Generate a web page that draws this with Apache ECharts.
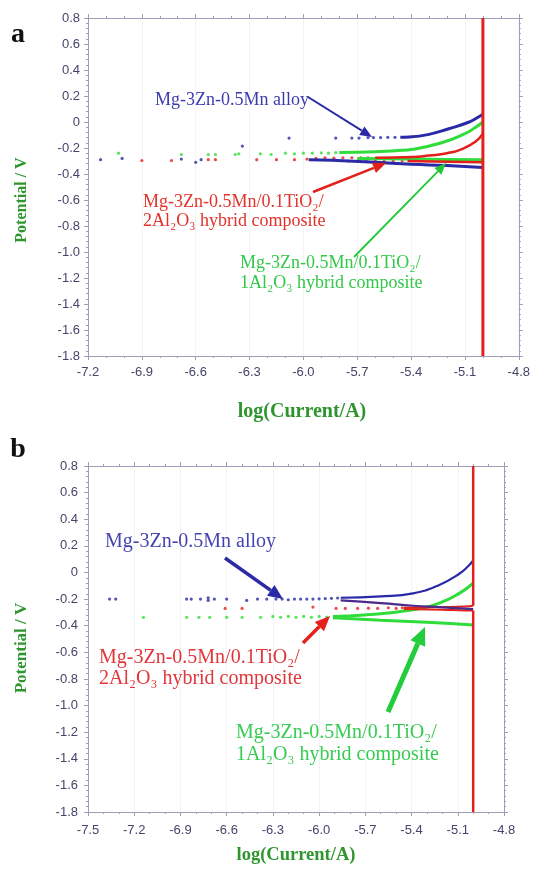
<!DOCTYPE html>
<html>
<head>
<meta charset="utf-8">
<script src="https://cdn.jsdelivr.net/npm/echarts@6/dist/echarts.min.js"></script>
<style>
    html, body { margin: 0; padding: 0; background: #fff; }
    #tafelChart { width: 533px; height: 878px; }
</style>
</head>
<body>
<div id="tafelChart"></div>
<script>
// ---- panel a : [log(I/A), E (V)] ----
const aBlueDots = [[-7.13,-0.29],[-7.01,-0.28],[-6.68,-0.285],[-6.6,-0.31],[-6.57,-0.29],[-6.34,-0.185],
    [-6.08,-0.124],[-5.82,-0.124],[-5.73,-0.124],[-5.69,-0.124],[-5.64,-0.12],[-5.61,-0.12],[-5.57,-0.12],[-5.53,-0.118],[-5.49,-0.118]];
const aBlueAnodic = [[-5.46,-0.117],[-5.41,-0.115],[-5.3,-0.095],[-5.19,-0.052],[-5.08,-0.002],[-5.03,0.035],[-5.0,0.06]];
const aBlueCathodic = [[-5.97,-0.29],[-5.84,-0.295],[-5.6,-0.31],[-5.4,-0.325],[-5.2,-0.335],[-5.0,-0.35]];

const aGreenDots = [[-7.03,-0.24],[-6.68,-0.25],[-6.53,-0.25],[-6.49,-0.25],[-6.38,-0.25],[-6.36,-0.245],[-6.24,-0.245],
    [-6.18,-0.25],[-6.1,-0.24],[-6.05,-0.245],[-6.0,-0.24],[-5.95,-0.24],[-5.9,-0.237],[-5.86,-0.24],[-5.82,-0.236]];
const aGreenAnodic = [[-5.8,-0.235],[-5.6,-0.228],[-5.48,-0.22],[-5.39,-0.21],[-5.23,-0.16],[-5.1,-0.09],[-5.04,-0.04],[-5.0,0.0]];
const aGreenCathodic = [[-5.7,-0.28],[-5.4,-0.285],[-5.2,-0.288],[-5.0,-0.29]];

const aRedDots = [[-6.9,-0.296],[-6.735,-0.296],[-6.53,-0.29],[-6.49,-0.29],[-6.26,-0.29],[-6.15,-0.29],[-6.05,-0.29],
    [-5.98,-0.285],[-5.93,-0.28],[-5.88,-0.275],[-5.83,-0.278],[-5.78,-0.275],[-5.73,-0.275],[-5.68,-0.275],[-5.64,-0.275],
    [-5.75,-0.3],[-5.7,-0.3],[-5.65,-0.302],[-5.6,-0.3],[-5.55,-0.302],[-5.5,-0.3],[-5.45,-0.3]];
const aRedAnodic = [[-5.6,-0.275],[-5.39,-0.27],[-5.3,-0.258],[-5.2,-0.24],[-5.12,-0.21],[-5.04,-0.15],[-5.0,-0.09]];
const aRedCathodic = [[-5.42,-0.3],[-5.2,-0.305],[-5.0,-0.31]];
const aRedLimit = [[-5.0,0.8],[-5.0,-1.8]];

// ---- panel b ----
const bBlueDots = [[-7.36,-0.2],[-7.32,-0.2],[-6.86,-0.2],[-6.83,-0.2],[-6.77,-0.2],[-6.72,-0.19],[-6.72,-0.21],[-6.68,-0.2],
    [-6.6,-0.2],[-6.47,-0.21],[-6.4,-0.2],[-6.34,-0.2],[-6.28,-0.2],[-6.24,-0.2],[-6.2,-0.205],[-6.16,-0.2],[-6.12,-0.2],
    [-6.08,-0.2],[-6.04,-0.2],[-6.0,-0.198],[-5.96,-0.196],[-5.92,-0.194],[-5.88,-0.192]];
const bBlueAnodic = [[-5.86,-0.19],[-5.6,-0.18],[-5.39,-0.157],[-5.22,-0.094],[-5.09,-0.01],[-5.03,0.05],[-5.0,0.09]];
const bBlueCathodic = [[-5.86,-0.21],[-5.6,-0.23],[-5.39,-0.25],[-5.2,-0.262],[-5.0,-0.275]];

const bRedDots = [[-6.61,-0.27],[-6.5,-0.27],[-6.04,-0.26],[-5.89,-0.27],[-5.83,-0.27],[-5.75,-0.27],[-5.68,-0.268],
    [-5.62,-0.27],[-5.55,-0.265],[-5.5,-0.27],[-5.46,-0.265]];
const bRedAnodic = [[-5.45,-0.265],[-5.2,-0.26],[-5.05,-0.255],[-5.0,-0.25]];
const bRedCathodic = [[-5.45,-0.275],[-5.2,-0.28],[-5.05,-0.285],[-5.0,-0.285]];
const bRedLimitTop = [[-5.0,0.8],[-5.0,-0.25]];
const bRedLimitBottom = [[-5.0,-0.285],[-5.0,-1.8]];

const bGreenDots = [[-7.14,-0.337],[-6.86,-0.337],[-6.78,-0.337],[-6.71,-0.337],[-6.6,-0.337],[-6.5,-0.337],[-6.38,-0.337],
    [-6.3,-0.33],[-6.25,-0.337],[-6.2,-0.33],[-6.15,-0.337],[-6.1,-0.33],[-6.05,-0.337],[-6.0,-0.33],[-5.95,-0.335]];
const bGreenAnodic = [[-5.91,-0.33],[-5.71,-0.32],[-5.39,-0.28],[-5.22,-0.23],[-5.09,-0.157],[-5.0,-0.08]];
const bGreenCathodic = [[-5.91,-0.34],[-5.6,-0.36],[-5.3,-0.375],[-5.0,-0.395]];

// axis ranges
const aXRange = [-7.2, -4.8];
const bXRange = [-7.5, -4.8];
const yRange = [-1.8, 0.8];

const BLUE = '#2a2aa6', RED = '#e3211c', GREEN = '#2fdc3a';
const SERIF = '"Liberation Serif", "Times New Roman", serif';
const SANS = '"Liberation Sans", Arial, sans-serif';

let chart = echarts.init(document.getElementById('tafelChart'));

function xAxisDef(grid, range, pos, showLabel, margin) {
    return {
        type: 'value', gridIndex: grid, position: pos, min: range[0], max: range[1], interval: 0.3,
        axisLine: { onZero: false, lineStyle: { color: '#9d9db8', width: 1 } },
        axisTick: { length: 4, lineStyle: { color: '#9d9db8' } },
        minorTick: { show: true, splitNumber: 3, length: 2, lineStyle: { color: '#9d9db8' } },
        splitLine: { show: pos === 'bottom', lineStyle: { color: '#f3f3f7' } },
        axisLabel: { show: showLabel, margin: margin, color: '#45456a', fontFamily: SANS, fontSize: 13,
            formatter: v => v.toFixed(1) }
    };
}

function yAxisDef(grid, pos, showLabel, margin) {
    return {
        type: 'value', gridIndex: grid, position: pos, min: yRange[0], max: yRange[1], interval: 0.2,
        axisLine: { onZero: false, lineStyle: { color: '#9d9db8', width: 1 } },
        axisTick: { length: 4, lineStyle: { color: '#9d9db8' } },
        minorTick: { show: true, splitNumber: 5, length: 2, lineStyle: { color: '#9d9db8' } },
        splitLine: { show: false },
        axisLabel: { show: showLabel, margin: margin, color: '#45456a', fontFamily: SANS, fontSize: 13,
            formatter: v => Math.abs(v) < 1e-9 ? '0' : v.toFixed(1) }
    };
}

function dots(data, color, ax) {
    return { type: 'scatter', data: data, xAxisIndex: ax, yAxisIndex: ax, symbolSize: 3.2,
        itemStyle: { color: color }, silent: true, z: 3 };
}
function curve(data, color, ax, w) {
    return { type: 'line', data: data, xAxisIndex: ax, yAxisIndex: ax, smooth: true, showSymbol: false,
        lineStyle: { color: color, width: w }, silent: true, z: 4 };
}

// annotation arrows in pixel space
function arrow(x1, y1, x2, y2, color, w) {
    const ang = Math.atan2(y2 - y1, x2 - x1);
    const hl = 8 + w * 2, hw = 3 + w;
    const bx = x2 - hl * Math.cos(ang), by = y2 - hl * Math.sin(ang);
    const px = -Math.sin(ang) * hw, py = Math.cos(ang) * hw;
    return { type: 'group', silent: true, z: 100, children: [
        { type: 'line', z: 100, shape: { x1: x1, y1: y1, x2: bx, y2: by }, style: { stroke: color, lineWidth: w } },
        { type: 'polygon', z: 100, shape: { points: [[x2, y2], [bx + px, by + py], [bx - px, by - py]] }, style: { fill: color } }
    ]};
}
function label(text, x, y, color, size) {
    return { type: 'text', x: x, y: y, silent: true, z: 100,
        style: { text: text, fill: color, font: size + 'px ' + SERIF, verticalAlign: 'middle' } };
}
function boldLabel(text, x, y, color, size, align, rotation) {
    return { type: 'text', x: x, y: y, rotation: rotation || 0, silent: true, z: 100,
        style: { text: text, fill: color, font: 'bold ' + size + 'px ' + SERIF, align: align, verticalAlign: 'middle' } };
}

const AXNAME = '#2f962f';

let option = {
    backgroundColor: '#fff',
    animation: false,
    grid: [
        { left: 88, right: 14, top: 18, height: 338 },
        { left: 88, right: 29, top: 466, height: 346 }
    ],
    xAxis: [
        xAxisDef(0, aXRange, 'bottom', true, 10),
        xAxisDef(0, aXRange, 'top', false, 0),
        xAxisDef(1, bXRange, 'bottom', true, 12),
        xAxisDef(1, bXRange, 'top', false, 0)
    ],
    yAxis: [
        yAxisDef(0, 'left', true, 8),
        yAxisDef(0, 'right', false, 0),
        yAxisDef(1, 'left', true, 10),
        yAxisDef(1, 'right', false, 0)
    ],
    series: [
        // panel a
        dots(aGreenDots, GREEN, 0),
        curve(aGreenAnodic, GREEN, 0, 3),
        curve(aGreenCathodic, GREEN, 0, 3),
        dots(aBlueDots, BLUE, 0),
        curve(aBlueAnodic, BLUE, 0, 3),
        curve(aBlueCathodic, BLUE, 0, 3),
        dots(aRedDots, RED, 0),
        curve(aRedAnodic, RED, 0, 2.5),
        curve(aRedCathodic, RED, 0, 2.5),
        curve(aRedLimit, RED, 0, 3),
        // panel b
        dots(bGreenDots, GREEN, 2),
        curve(bGreenAnodic, GREEN, 2, 3),
        curve(bGreenCathodic, GREEN, 2, 3),
        dots(bRedDots, RED, 2),
        curve(bRedAnodic, RED, 2, 2),
        curve(bRedCathodic, RED, 2, 2),
        dots(bBlueDots, BLUE, 2),
        curve(bBlueAnodic, BLUE, 2, 2.2),
        curve(bBlueCathodic, '#4a2a8a', 2, 2.2),
        curve(bRedLimitTop, RED, 2, 2.5),
        curve(bRedLimitBottom, RED, 2, 2.5)
    ],
    graphic: [
        // panel letters and axis names
        boldLabel('a', 18, 35, '#111', 28, 'center'),
        boldLabel('b', 18, 450, '#111', 28, 'center'),
        boldLabel('Potential / V', 22, 200, AXNAME, 16, 'center', Math.PI / 2),
        boldLabel('Potential / V', 22, 648, AXNAME, 17, 'center', Math.PI / 2),
        boldLabel('log(Current/A)', 302, 412, AXNAME, 20, 'center'),
        boldLabel('log(Current/A)', 296, 855, AXNAME, 18.5, 'center'),

        // panel a annotations
        label('Mg-3Zn-0.5Mn alloy', 155, 100, '#3b3bb0', 18),
        arrow(308, 97, 372, 137, BLUE, 2),
        label('Mg-3Zn-0.5Mn/0.1TiO₂/', 143, 202, '#e2322a', 18),
        label('2Al₂O₃ hybrid composite', 143, 221, '#e2322a', 18),
        arrow(313, 192, 386, 163, RED, 2.5),
        label('Mg-3Zn-0.5Mn/0.1TiO₂/', 240, 263, '#33c84a', 18),
        label('1Al₂O₃ hybrid composite', 240, 283, '#33c84a', 18),
        arrow(354, 257, 446, 163, '#22c83a', 1.8),

        // panel b annotations
        label('Mg-3Zn-0.5Mn alloy', 105, 542, '#4545b0', 20),
        arrow(225, 558, 283, 599, BLUE, 3.5),
        label('Mg-3Zn-0.5Mn/0.1TiO₂/', 99, 658, '#e0363a', 20),
        label('2Al₂O₃ hybrid composite', 99, 679, '#e0363a', 20),
        arrow(303, 643, 330, 616, RED, 3.5),
        label('Mg-3Zn-0.5Mn/0.1TiO₂/', 236, 733, '#36cc52', 20),
        label('1Al₂O₃ hybrid composite', 236, 755, '#36cc52', 20),
        arrow(388, 712, 425, 627, '#22cc3a', 5)
    ]
};

chart.setOption(option);
</script>
</body>
</html>
